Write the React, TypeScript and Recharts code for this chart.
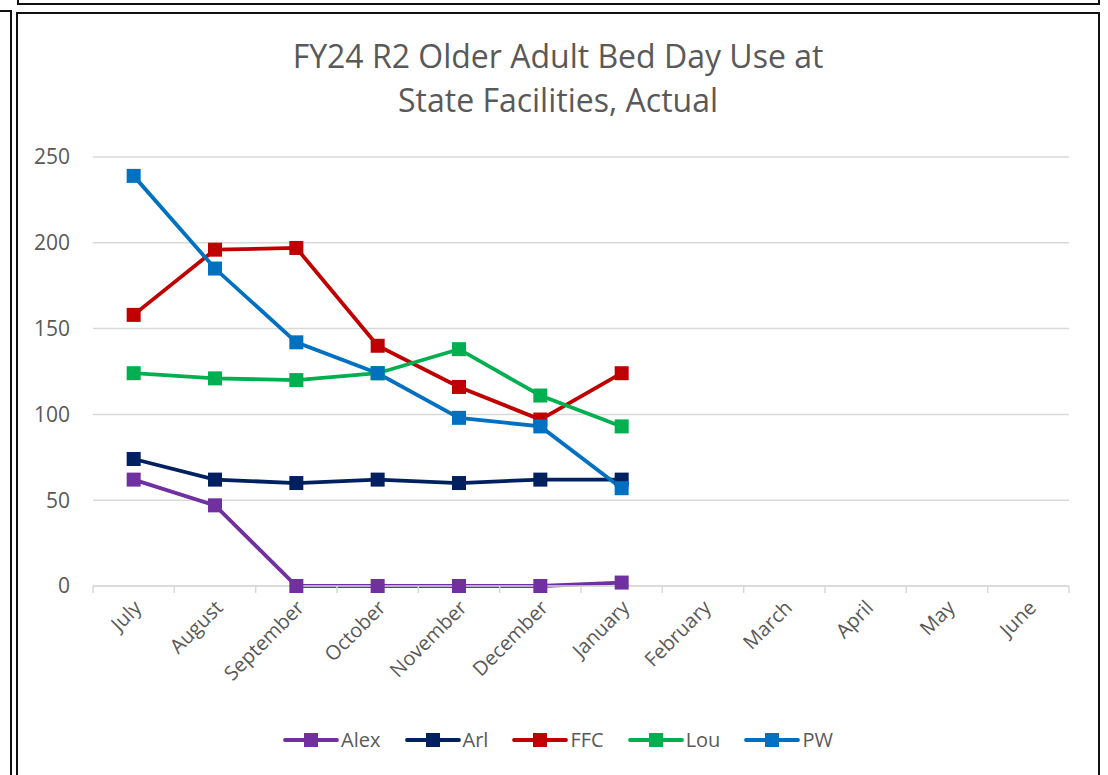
import { LineChart, Line, XAxis, YAxis, CartesianGrid } from 'recharts';

const months = ['July', 'August', 'September', 'October', 'November', 'December', 'January', 'February', 'March', 'April', 'May', 'June'];
const alex = [62, 47, 0, 0, 0, 0, 2];
const arl = [74, 62, 60, 62, 60, 62, 62];
const ffc = [158, 196, 197, 140, 116, 97, 124];
const lou = [124, 121, 120, 124, 138, 111, 93];
const pw = [239, 185, 142, 124, 98, 93, 57];
const yTicks = [0, 50, 100, 150, 200, 250];

const seriesList = [
  { key: 'Alex', values: alex, color: '#7030a0' },
  { key: 'Arl', values: arl, color: '#002060' },
  { key: 'FFC', values: ffc, color: '#c00000' },
  { key: 'Lou', values: lou, color: '#00b050' },
  { key: 'PW', values: pw, color: '#0070c0' },
];

const data = months.map((m, i) => {
  const row: Record<string, any> = { month: m };
  seriesList.forEach((s) => {
    row[s.key] = i < s.values.length ? s.values[i] : null;
  });
  return row;
});

const FONT = '"Open Sans", "Noto Sans", sans-serif';
const GRAY = '#595959';

const SquareDot = (color: string) => (props: any) => {
  const { cx, cy, index } = props;
  if (cx == null || cy == null || props.value == null) return <g key={index} />;
  return <rect key={index} x={cx - 7} y={cy - 7} width={14} height={14} fill={color} />;
};

const MonthTick = (props: any) => {
  const { x, y, payload, index, visibleTicksCount } = props;
  const half = payload.offset || 0;
  return (
    <g>
      <line x1={x - half} y1={586} x2={x - half} y2={593} stroke="#d9d9d9" strokeWidth={1.5} />
      {index === visibleTicksCount - 1 && (
        <line x1={x + half} y1={586} x2={x + half} y2={593} stroke="#d9d9d9" strokeWidth={1.5} />
      )}
      <text
        x={x + 9}
        y={y + 15}
        textAnchor="end"
        fontSize={20}
        fontFamily={FONT}
        fill={GRAY}
        transform={`rotate(-45, ${x + 9}, ${y + 15})`}
      >
        {payload.value}
      </text>
    </g>
  );
};

const LegendBox = () => (
  <div
    style={{
      position: 'absolute',
      left: 0,
      top: 726,
      width: 1116,
      display: 'flex',
      justifyContent: 'center',
      gap: 24,
      fontFamily: FONT,
      fontSize: 20,
      color: GRAY,
    }}
  >
    {seriesList.map((s) => (
      <div key={s.key} style={{ display: 'flex', alignItems: 'center' }}>
        <svg width={56} height={18}>
          <line x1={2} y1={9} x2={54} y2={9} stroke={s.color} strokeWidth={3.8} strokeLinecap="round" />
          <rect x={21} y={2} width={14} height={14} fill={s.color} />
        </svg>
        <span style={{ marginLeft: 2 }}>{s.key}</span>
      </div>
    ))}
  </div>
);

export default function App() {
  return (
    <div style={{ position: 'fixed', left: 0, top: 0, width: 1108, height: 775, background: '#fff', overflow: 'hidden' }}>
      <div style={{ position: 'absolute', left: 17, top: -10, width: 1079, height: 11, border: '2px solid #111' }} />
      <div style={{ position: 'absolute', left: -10, top: 10, width: 18, height: 800, border: '2px solid #111' }} />
      <div style={{ position: 'absolute', left: 16, top: 12, width: 1080, height: 800, border: '2px solid #111' }} />
      <div
        style={{
          position: 'absolute',
          left: 0,
          top: 34,
          width: 1116,
          textAlign: 'center',
          fontFamily: FONT,
          fontSize: 32,
          color: GRAY,
          lineHeight: '44px',
        }}
      >
        FY24 R2 Older Adult Bed Day Use at
        <br />
        State Facilities, Actual
      </div>
      <div style={{ position: 'absolute', left: 0, top: 0 }}>
        <LineChart width={1108} height={775} data={data} margin={{ top: 157, right: 39, bottom: 89, left: 0 }}>
          <CartesianGrid vertical={false} stroke="#d9d9d9" strokeWidth={1.5} />
          <XAxis
            dataKey="month"
            scale="band"
            stroke="#d9d9d9"
            strokeWidth={1.5}
            tickLine={false}
            tick={<MonthTick />}
            interval={0}
            height={100}
          />
          <YAxis
            width={93}
            domain={[0, 250]}
            ticks={yTicks}
            axisLine={false}
            tickLine={false}
            tickMargin={17}
            tick={{ fontSize: 21, fill: GRAY, fontFamily: FONT }}
          />
          {seriesList.map((s) => (
            <Line
              key={s.key}
              dataKey={s.key}
              stroke={s.color}
              strokeWidth={3.8}
              dot={SquareDot(s.color)}
              activeDot={false}
              isAnimationActive={false}
              connectNulls={false}
            />
          ))}
        </LineChart>
      </div>
      <LegendBox />
    </div>
  );
}
